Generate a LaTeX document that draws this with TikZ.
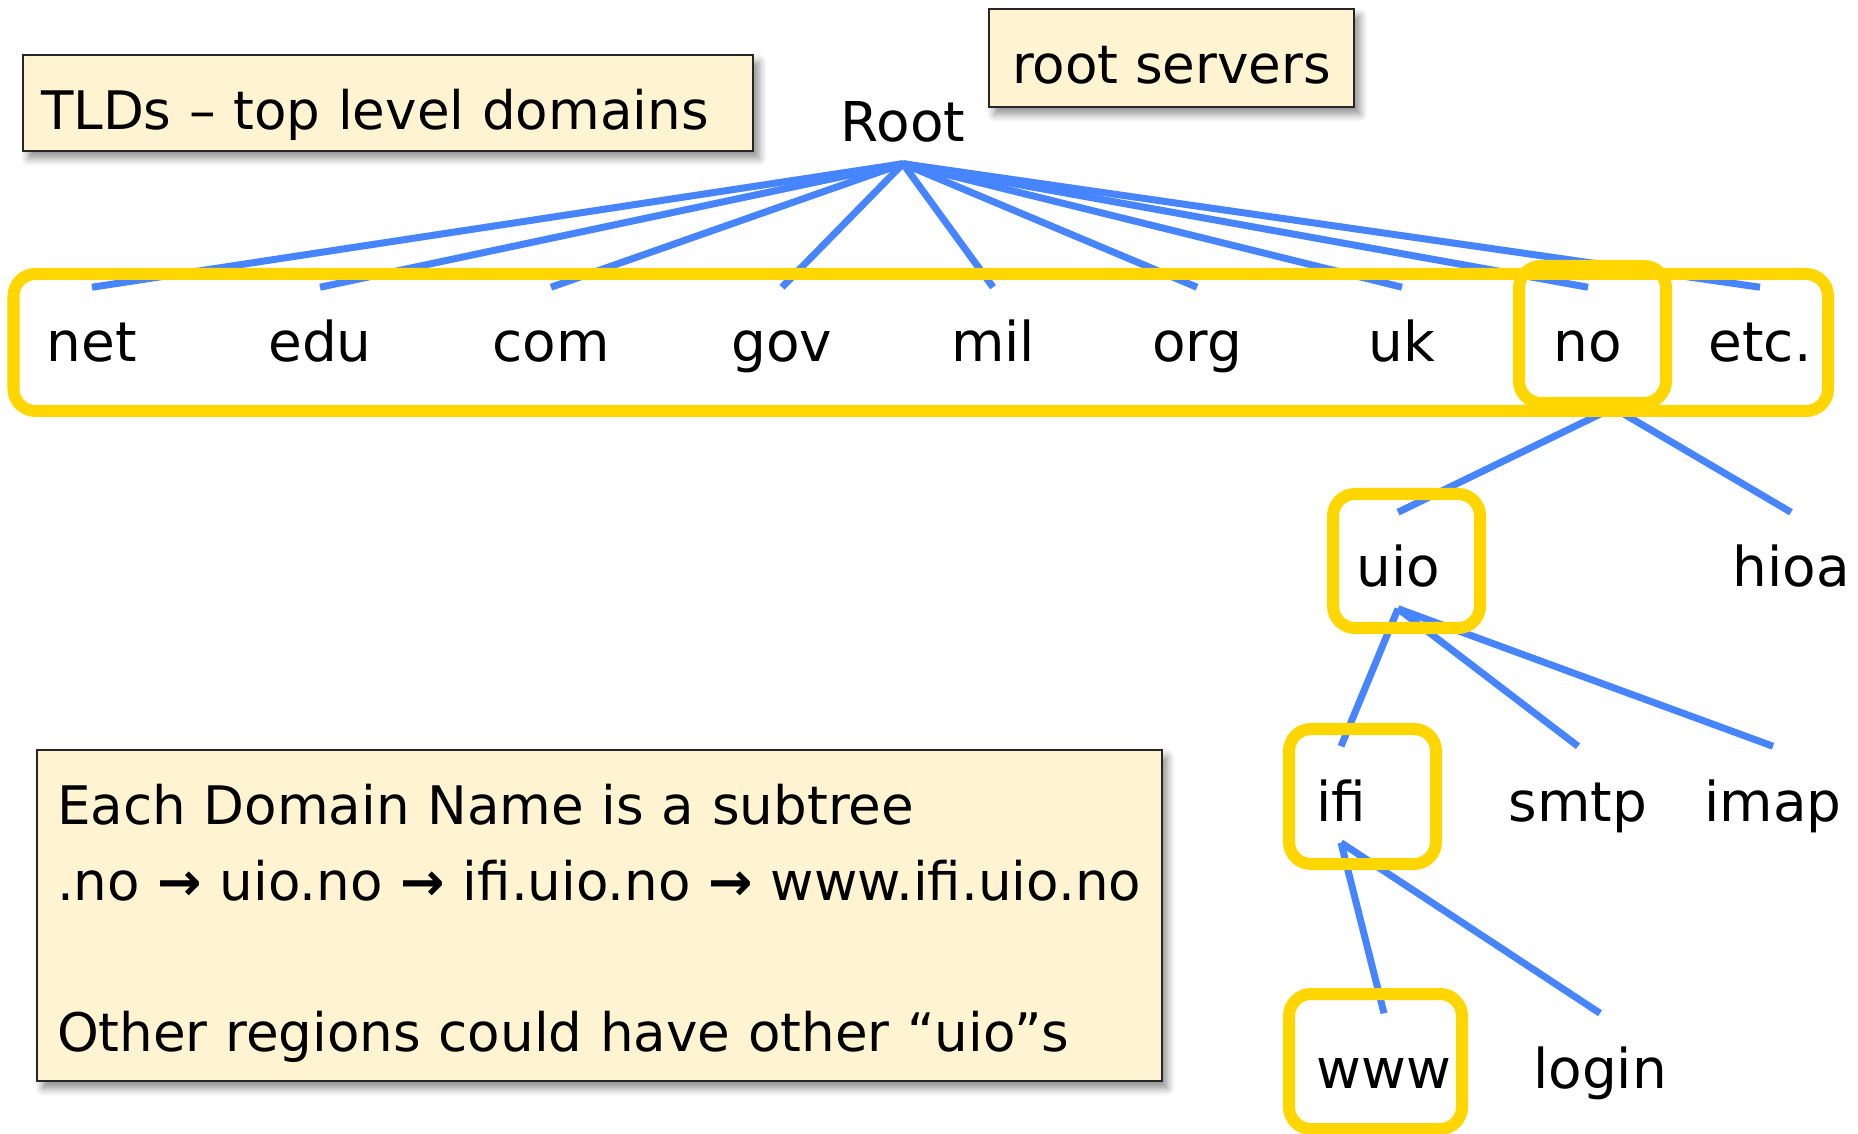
\documentclass[tikz,border=0pt]{standalone}
\usepackage{fontspec}
\setmainfont{DejaVu Sans}
\usepackage{xcolor}
\usepackage{tikz}
\usetikzlibrary{shadows.blur}

\definecolor{linkblue}{RGB}{70,133,255}
\definecolor{zonegold}{RGB}{255,214,0}
\definecolor{notecream}{RGB}{255,244,210}

\begin{document}
\begin{tikzpicture}[x=0.01cm, y=-0.01cm,
  dom/.style={anchor=base, inner sep=0pt, text height=0.74cm, text depth=0.21cm,
    font=\fontsize{15.6pt}{18pt}\selectfont},
  note/.style={draw=black!85, line width=0.02cm, fill=notecream, anchor=north west,
    inner ysep=0pt, text height=0.74cm, align=left,
    font=\fontsize{15.1pt}{21.6pt}\selectfont,
    blur shadow={shadow xshift=1.6pt, shadow yshift=-2pt, shadow blur steps=6, shadow opacity=45}},
  edge/.style={linkblue, line width=0.07cm},
  zone/.style={zonegold, line width=0.12cm, rounded corners=0.22cm}]
\useasboundingbox (0,0) rectangle (1858,1134);

\node[note, inner xsep=0.18cm, text width=6.94cm, text depth=0.22cm] (tlds) at (22,54) {TLDs -- top level domains};
\node[note, inner xsep=0.23cm, text depth=0.24cm] (rootsrv) at (988,8) {root servers};
\node[note, inner xsep=0.2cm, text width=10.84cm, text depth=2.57cm] (subtree) at (36,749)
  {Each Domain Name is a subtree\\
   .no {\bfseries →} uio.no {\bfseries →} ifi.uio.no {\bfseries →} www.ifi.uio.no\\
   \mbox{}\\
   Other regions could have other “uio”s};

\node[dom] (root) at (903,142) {Root};

\node[dom] (net) at (92,362) {net};
\node[dom] (edu) at (320,362) {edu};
\node[dom] (com) at (551,362) {com};
\node[dom] (gov) at (782,362) {gov};
\node[dom] (mil) at (993,362) {mil};
\node[dom] (org) at (1197,362) {org};
\node[dom] (uk) at (1402,362) {uk};
\node[dom] (no) at (1588,362) {no};
\node[dom] (etc) at (1760,362) {etc.};

\node[dom] (uio) at (1398,587) {uio};
\node[dom] (hioa) at (1791,587) {hioa};

\node[dom] (ifi) at (1341,821) {ifi};
\node[dom] (smtp) at (1578,821) {smtp};
\node[dom] (imap) at (1773,821) {imap};

\node[dom] (www) at (1384,1088) {www};
\node[dom] (login) at (1600,1088) {login};

\draw[edge] (root.south) -- (net.north);
\draw[edge] (root.south) -- (edu.north);
\draw[edge] (root.south) -- (com.north);
\draw[edge] (root.south) -- (gov.north);
\draw[edge] (root.south) -- (mil.north);
\draw[edge] (root.south) -- (org.north);
\draw[edge] (root.south) -- (uk.north);
\draw[edge] (root.south) -- (no.north);
\draw[edge] (root.south) -- (etc.north);

\draw[edge] ([shift={(17,28)}]no.south) -- (uio.north);
\draw[edge] ([shift={(32,28)}]no.south) -- (hioa.north);

\draw[edge] (uio.south) -- (ifi.north);
\draw[edge] (uio.south) -- (smtp.north);
\draw[edge] (uio.south) -- (imap.north);

\draw[edge] (ifi.south) -- (www.north);
\draw[edge] (ifi.south) -- (login.north);

% highlighted zones on top of the links
\draw[zone] (13.5,274) rectangle (1828,411);
\draw[zone] (1519,266) rectangle (1666,403);
\draw[zone] (1333,494) rectangle (1480,628);
\draw[zone] (1289,729) rectangle (1436,864);
\draw[zone] (1289,994) rectangle (1462,1129);
\end{tikzpicture}
\end{document}
